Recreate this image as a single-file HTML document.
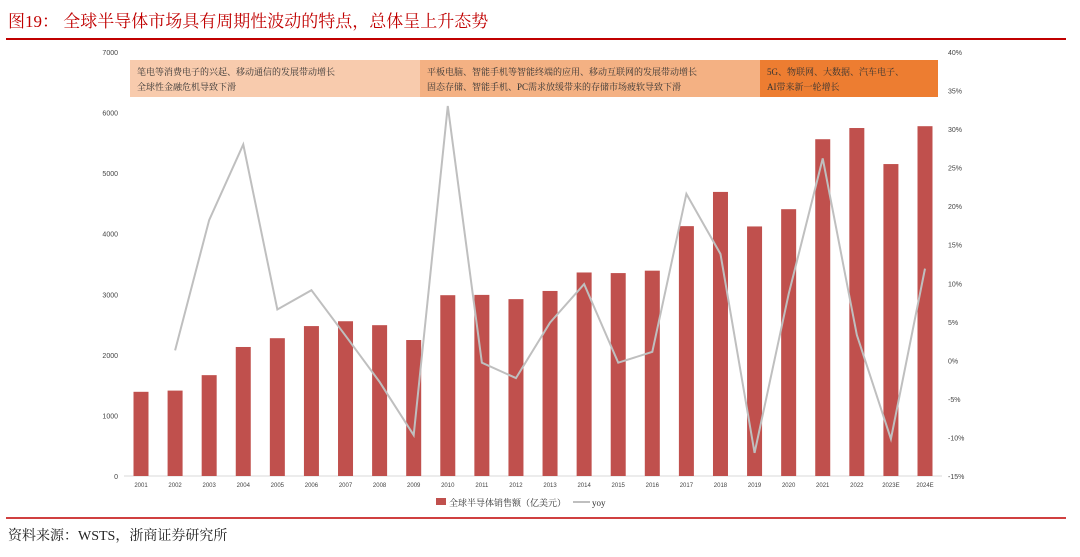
<!DOCTYPE html>
<html><head><meta charset="utf-8"><style>
body{margin:0;background:#fff;width:1080px;height:552px;overflow:hidden;font-family:"Liberation Serif","Noto Serif CJK SC",serif}
</style></head><body>
<svg width="1080" height="552" xmlns="http://www.w3.org/2000/svg">
<text x="8" y="27" font-size="17" fill="#c00000" font-family="Liberation Serif,Noto Serif CJK SC,serif">图19： 全球半导体市场具有周期性波动的特点，总体呈上升态势</text>
<line x1="6" y1="39" x2="1066" y2="39" stroke="#c00000" stroke-width="2"/>
<rect x="130" y="60" width="290" height="37" fill="#f8cbad"/>
<rect x="420" y="60" width="340" height="37" fill="#f4b183"/>
<rect x="760" y="60" width="178" height="37" fill="#ed7d31"/>
<g font-size="9" fill="#333" font-family="Liberation Serif,Noto Serif CJK SC,serif">
<text x="137" y="75">笔电等消费电子的兴起、移动通信的发展带动增长</text>
<text x="137" y="90">全球性金融危机导致下滑</text>
<text x="427" y="75">平板电脑、智能手机等智能终端的应用、移动互联网的发展带动增长</text>
<text x="427" y="90">固态存储、智能手机、PC需求放缓带来的存储市场疲软导致下滑</text>
<text x="767" y="75">5G、物联网、大数据、汽车电子、</text>
<text x="767" y="90">AI带来新一轮增长</text>
</g>
<g id="plot"></g>
<g font-size="9" fill="#333" font-family="Liberation Serif,Noto Serif CJK SC,serif">
<rect x="436" y="498" width="10" height="7" fill="#c0504d"/>
<text x="449" y="506">全球半导体销售额（亿美元）</text>
<line x1="573" y1="502" x2="590" y2="502" stroke="#bfbfbf" stroke-width="2"/>
<text x="592" y="506">yoy</text>
</g>
<line x1="6" y1="518" x2="1066" y2="518" stroke="#c00000" stroke-width="1.5"/>
<text x="8" y="540" font-size="14" fill="#222">资料来源：WSTS，浙商证券研究所</text>
</svg>
<script>
const categories=["2001","2002","2003","2004","2005","2006","2007","2008","2009","2010","2011","2012","2013","2014","2015","2016","2017","2018","2019","2020","2021","2022","2023E","2024E"];
const sales=[1390,1410,1665,2130,2275,2475,2555,2490,2245,2985,2990,2920,3055,3360,3350,3390,4125,4690,4120,4405,5560,5745,5150,5775];
const yoy=[null,1.3,18.2,28,6.6,9.1,3.2,-2.8,-9.7,33,-0.3,-2.3,4.9,9.9,-0.3,1.1,21.6,13.8,-12,8.6,26.2,3.3,-10.2,11.9];
const leftTicks=[0,1000,2000,3000,4000,5000,6000,7000];
const rightTicks=[-15,-10,-5,0,5,10,15,20,25,30,35,40];
const NS="http://www.w3.org/2000/svg";
const g=document.getElementById('plot');
const yTop=52,yBot=476,x0=141,x1=925;
const yL=v=>yBot-(v/7000)*(yBot-yTop);
const yR=v=>yBot-((v+15)/55)*(yBot-yTop);
const xC=i=>x0+i*(x1-x0)/(categories.length-1);
function mk(t,a){const e=document.createElementNS(NS,t);for(const k in a)e.setAttribute(k,a[k]);g.appendChild(e);return e;}
const ax=mk('line',{x1:124,x2:942,y1:yBot,y2:yBot,stroke:'#d9d9d9'});


leftTicks.forEach(v=>{const t=mk('text',{x:118,y:yL(v)+3,'font-size':7,'text-anchor':'end',fill:'#444','font-family':'Liberation Sans,sans-serif'});t.textContent=v;

});
rightTicks.forEach(v=>{const t=mk('text',{x:948,y:yR(v)+3,'font-size':7,fill:'#444','font-family':'Liberation Sans,sans-serif'});t.textContent=v+'%';

});
sales.forEach((v,i)=>{const r=mk('rect',{x:xC(i)-7.5,y:yL(v),width:15,height:yBot-yL(v),fill:'#c0504d'});


const t=mk('text',{x:xC(i),y:yBot+11,'font-size':6,'text-anchor':'middle',fill:'#444','font-family':'Liberation Sans,sans-serif'});t.textContent=categories[i];

});
const pts=[];yoy.forEach((v,i)=>{if(v!==null)pts.push(xC(i)+','+yR(v));});
const pl=mk('polyline',{points:pts.join(' '),fill:'none',stroke:'#bfbfbf','stroke-width':2});


</script>
</body></html>
